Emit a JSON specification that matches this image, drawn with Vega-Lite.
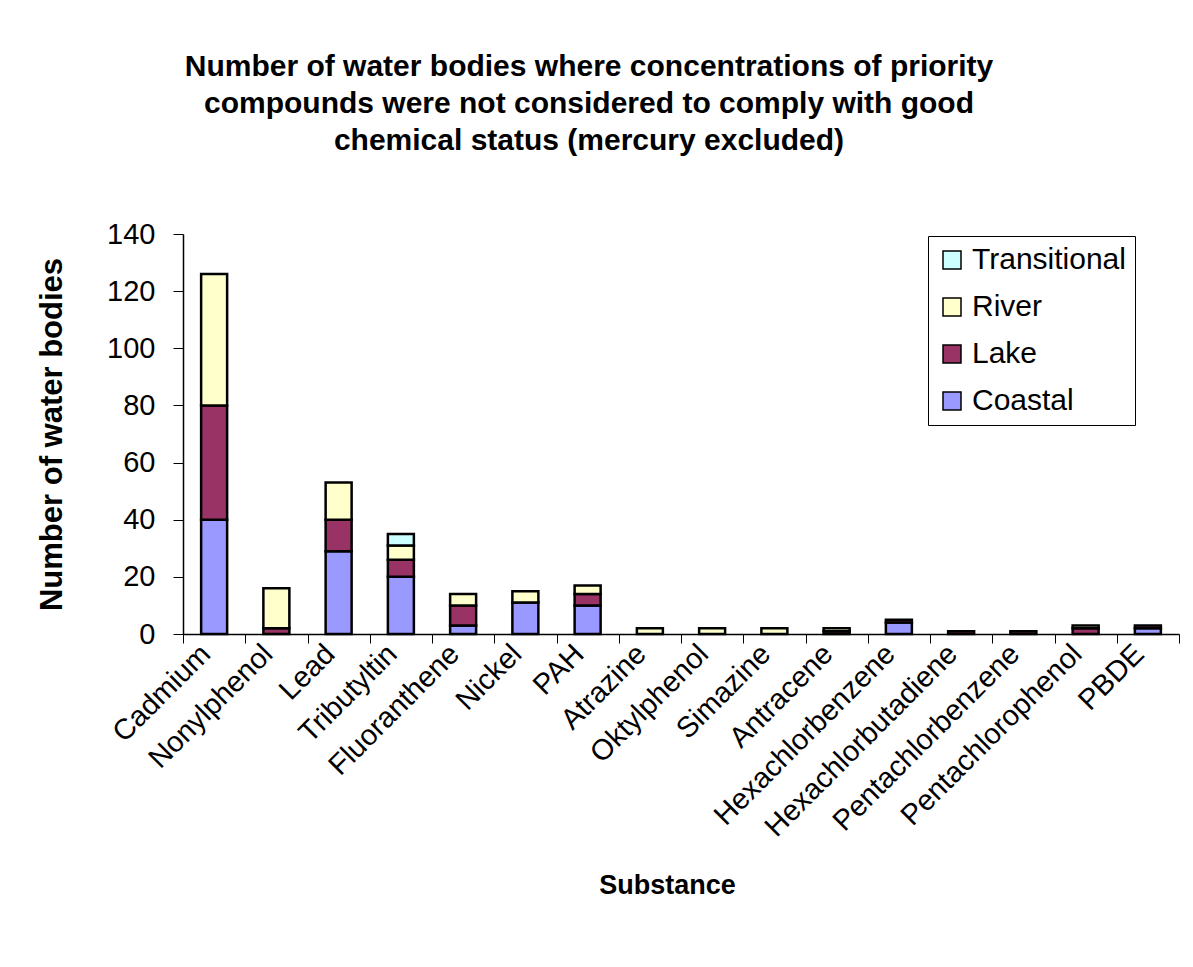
{
  "$schema": "https://vega.github.io/schema/vega-lite/v6.json",
  "width": 996,
  "height": 400,
  "autosize": {"type": "none"},
  "padding": {"left": 183, "top": 234, "right": 14, "bottom": 333},
  "background": "white",
  "title": {
    "text": ["Number of water bodies where concentrations of priority", "compounds were not considered to comply with good", "chemical status (mercury excluded)"],
    "font": "Liberation Sans",
    "fontSize": 30,
    "fontWeight": "bold",
    "color": "black",
    "lineHeight": 37,
    "anchor": "middle",
    "dx": -92,
    "offset": 64
  },
  "data": {
    "values": [
      {"substance": "Cadmium", "type": "Coastal", "count": 40},
      {"substance": "Cadmium", "type": "Lake", "count": 40},
      {"substance": "Cadmium", "type": "River", "count": 46},
      {"substance": "Nonylphenol", "type": "Lake", "count": 2},
      {"substance": "Nonylphenol", "type": "River", "count": 14},
      {"substance": "Lead", "type": "Coastal", "count": 29},
      {"substance": "Lead", "type": "Lake", "count": 11},
      {"substance": "Lead", "type": "River", "count": 13},
      {"substance": "Tributyltin", "type": "Coastal", "count": 20},
      {"substance": "Tributyltin", "type": "Lake", "count": 6},
      {"substance": "Tributyltin", "type": "River", "count": 5},
      {"substance": "Tributyltin", "type": "Transitional", "count": 4},
      {"substance": "Fluoranthene", "type": "Coastal", "count": 3},
      {"substance": "Fluoranthene", "type": "Lake", "count": 7},
      {"substance": "Fluoranthene", "type": "River", "count": 4},
      {"substance": "Nickel", "type": "Coastal", "count": 11},
      {"substance": "Nickel", "type": "River", "count": 4},
      {"substance": "PAH", "type": "Coastal", "count": 10},
      {"substance": "PAH", "type": "Lake", "count": 4},
      {"substance": "PAH", "type": "River", "count": 3},
      {"substance": "Atrazine", "type": "River", "count": 2},
      {"substance": "Oktylphenol", "type": "River", "count": 2},
      {"substance": "Simazine", "type": "River", "count": 2},
      {"substance": "Antracene", "type": "Lake", "count": 1},
      {"substance": "Antracene", "type": "River", "count": 1},
      {"substance": "Hexachlorbenzene", "type": "Coastal", "count": 4},
      {"substance": "Hexachlorbenzene", "type": "Lake", "count": 1},
      {"substance": "Hexachlorbutadiene", "type": "Lake", "count": 1},
      {"substance": "Pentachlorbenzene", "type": "Lake", "count": 1},
      {"substance": "Pentachlorophenol", "type": "Lake", "count": 2},
      {"substance": "Pentachlorophenol", "type": "River", "count": 1},
      {"substance": "PBDE", "type": "Coastal", "count": 2},
      {"substance": "PBDE", "type": "Lake", "count": 1}
    ]
  },
  "mark": {"type": "bar", "size": 26, "stroke": "black", "strokeWidth": 2.5},
  "encoding": {
    "x": {
      "field": "substance",
      "type": "nominal",
      "sort": ["Cadmium", "Nonylphenol", "Lead", "Tributyltin", "Fluoranthene", "Nickel", "PAH", "Atrazine", "Oktylphenol", "Simazine", "Antracene", "Hexachlorbenzene", "Hexachlorbutadiene", "Pentachlorbenzene", "Pentachlorophenol", "PBDE"],
      "scale": {"paddingInner": 0, "paddingOuter": 0},
      "axis": {
        "title": "Substance",
        "titleFont": "Liberation Sans",
        "titleFontSize": 27,
        "titleFontWeight": "bold",
        "titleColor": "black",
        "titlePadding": 38,
        "titleX": 484,
        "labelFont": "Liberation Sans",
        "labelFontSize": 29,
        "labelColor": "black",
        "labelAngle": -45,
        "labelAlign": "right",
        "labelBaseline": "middle",
        "labelPadding": 6,
        "labelOffset": -9,
        "labelLimit": 0,
        "tickBand": "extent",
        "tickSize": 9,
        "tickColor": "black",
        "domainColor": "black",
        "domainWidth": 1.5,
        "labelOverlap": false
      }
    },
    "y": {
      "field": "count",
      "type": "quantitative",
      "aggregate": "sum",
      "stack": "zero",
      "scale": {"domain": [0, 140], "nice": false},
      "axis": {
        "title": "Number of water bodies",
        "titleFont": "Liberation Sans",
        "titleFontSize": 31,
        "titleFontWeight": "bold",
        "titleColor": "black",
        "titlePadding": 38,
        "values": [0, 20, 40, 60, 80, 100, 120, 140],
        "labelFont": "Liberation Sans",
        "labelFontSize": 29,
        "labelColor": "black",
        "labelPadding": 18,
        "tickSize": 10,
        "tickColor": "black",
        "domainColor": "black",
        "domainWidth": 1.5,
        "grid": false
      }
    },
    "color": {
      "field": "type",
      "type": "nominal",
      "scale": {"domain": ["Transitional", "River", "Lake", "Coastal"], "range": ["#CCFFFF", "#FFFFCC", "#993366", "#9999FF"]},
      "legend": {
        "title": null,
        "orient": "none",
        "legendX": 745,
        "legendY": 2,
        "strokeColor": "black",
        "padding": 9,
        "labelFont": "Liberation Sans",
        "labelFontSize": 30,
        "labelColor": "black",
        "labelOffset": 5,
        "labelLimit": 0,
        "symbolType": "square",
        "symbolSize": 324,
        "symbolStrokeColor": "black",
        "symbolStrokeWidth": 1.5,
        "symbolOpacity": 1,
        "rowPadding": 17
      }
    },
    "order": {"field": "type", "sort": "ascending"}
  },
  "config": {"view": {"stroke": null}}
}
